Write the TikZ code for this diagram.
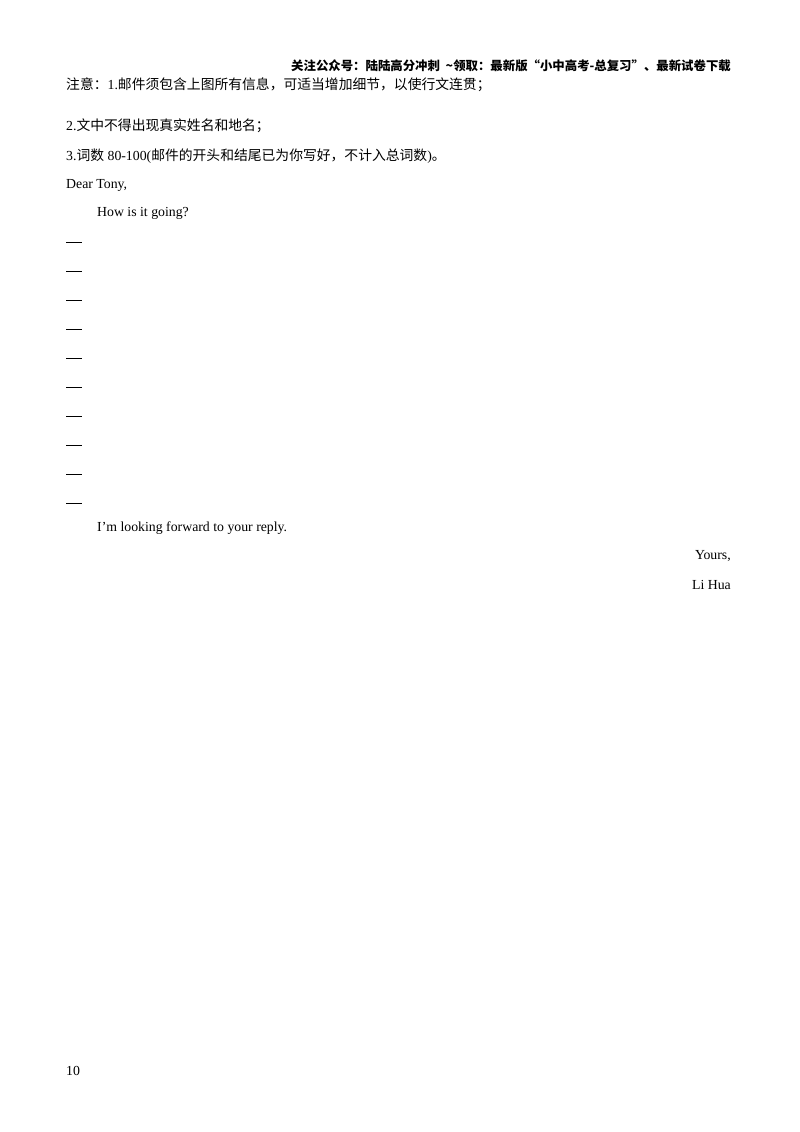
\documentclass[tikz,border=0pt]{standalone}
\usepackage{fontspec}
\setmainfont{Liberation Serif}
\newfontfamily\cjk{Noto Sans CJK SC}
\begin{document}
\begin{tikzpicture}[x=1pt,y=-1pt,
  txt/.style={anchor=west,inner sep=0pt,font=\fontsize{13.8}{16}\selectfont},
  rtxt/.style={anchor=east,inner sep=0pt,font=\fontsize{13.8}{16}\selectfont},
  dashline/.style={line width=0.7pt}]
\useasboundingbox (0,0) rectangle (800,1132);
\node[rtxt,font=\fontsize{12.4}{14}\selectfont\cjk\bfseries] (hdr) at (731,66) {关注公众号：陆陆高分冲刺\ \ \textasciitilde 领取：最新版“小中高考-总复习”、最新试卷下载};
\node[txt] (n1) at (66,85) {{\cjk 注意：}1.{\cjk 邮件须包含上图所有信息，可适当增加细节，以使行文连贯；}};
\node[txt] (n2) at (66,126) {2.{\cjk 文中不得出现真实姓名和地名；}};
\node[txt] (n3) at (66,156) {3.{\cjk 词数} 80-100({\cjk 邮件的开头和结尾已为你写好，不计入总词数})\cjk 。};
\node[txt] (dear) at (66,185) {Dear Tony,};
\node[txt] (how) at (97,213) {How is it going?};
\foreach \i in {0,...,9}{
  \coordinate (a\i) at (66,{242+29*\i});
  \coordinate (b\i) at (82,{242+29*\i});
  \draw[dashline] (a\i) -- (b\i);
}
\node[txt] (look) at (97,528) {I'm looking forward to your reply.};
\node[rtxt] (yours) at (731,556) {Yours,};
\node[rtxt] (li) at (731,585) {Li Hua};
\node[txt] (pg) at (66,1071) {10};
\end{tikzpicture}
\end{document}
